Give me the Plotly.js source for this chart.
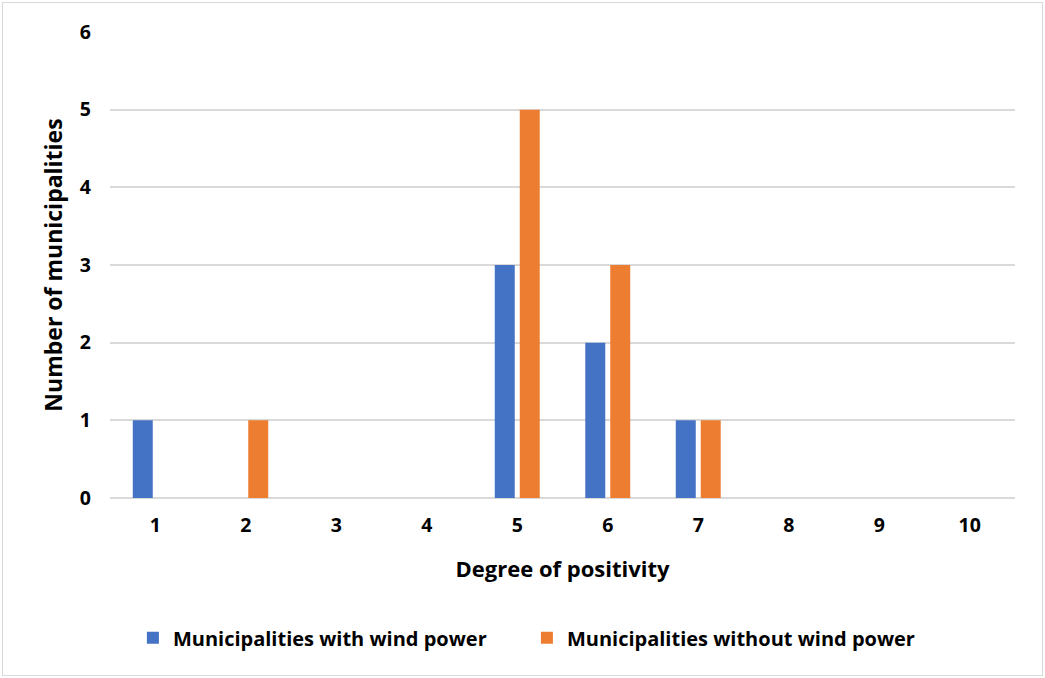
<!DOCTYPE html>
<html><head><meta charset="utf-8">
<script src="https://cdn.plot.ly/plotly-3.0.1.min.js"></script>
<style>
body{margin:0;padding:0;background:#fff;}
#frame{position:absolute;left:2px;top:2px;width:1039px;height:672px;border:1px solid #d9d9d9;pointer-events:none;z-index:5;}
#chart{position:absolute;left:0;top:0;width:1045px;height:678px;}
</style></head>
<body>
<div id="chart"></div><div id="frame"></div>
<script>
const categories = ['1','2','3','4','5','6','7','8','9','10'];
const withWind = [1,0,0,0,3,2,1,0,0,0];
const withoutWind = [0,1,0,0,5,3,1,0,0,0];
const seriesNames = ['Municipalities with wind power','Municipalities without wind power'];
const yTicks = [0,1,2,3,4,5,6];

const fam = '"Open Sans", sans-serif';
const data = [
  {type:'bar', x:categories, y:withWind, name:seriesNames[0], marker:{color:'#4472C4'}},
  {type:'bar', x:categories, y:withoutWind, name:seriesNames[1], marker:{color:'#ED7D31'}}
];
const layout = {
  width:1045, height:678,
  margin:{l:110, r:30, t:32, b:180},
  paper_bgcolor:'#fff', plot_bgcolor:'#fff',
  barmode:'group', bargap:0.448, bargroupgap:0.2,
  font:{family:fam, size:18, color:'#000', weight:'bold'},
  xaxis:{type:'category', tickfont:{family:fam,size:19.5,weight:'bold'}, ticks:'', ticklabelstandoff:13,
    showline:false, showgrid:false, zeroline:false,
    title:{text:'Degree of positivity', font:{family:fam,size:22,weight:'bold'}, standoff:25}, automargin:false},
  yaxis:{range:[0,6], tickvals:yTicks, tickfont:{family:fam,size:19.5,weight:'bold'}, ticks:'', ticklabelstandoff:18,
    showgrid:true, gridcolor:'#d9d9d9', gridwidth:2, zeroline:true, zerolinecolor:'#d9d9d9', zerolinewidth:2,
    title:{text:'Number of municipalities', font:{family:fam,size:23,weight:'bold'}, standoff:10}, automargin:false},
  legend:{orientation:'h', x:0.0253, xanchor:'left', y:-0.30, yanchor:'middle', font:{family:fam,size:20,weight:'bold'},
    itemwidth:30, entrywidth:349, entrywidthmode:'pixels', traceorder:'normal'},
  showlegend:true
};
Plotly.newPlot('chart', data, layout, {displayModeBar:false, staticPlot:true});
</script>
</body></html>
